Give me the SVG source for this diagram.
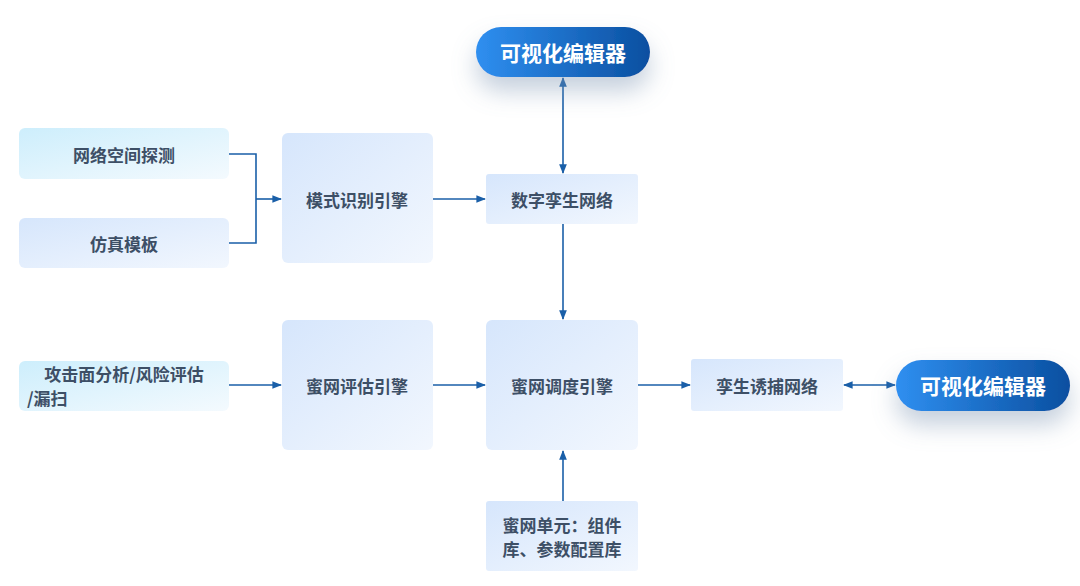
<svg xmlns="http://www.w3.org/2000/svg" width="1080" height="586" viewBox="0 0 1080 586">
<style>
.t{font-family:"Noto Sans CJK SC","Noto Sans",sans-serif;font-weight:bold;font-size:17px;fill:#3d4f66;text-anchor:middle;dominant-baseline:central}
.w{font-family:"Noto Sans CJK SC","Noto Sans",sans-serif;font-weight:bold;font-size:21px;fill:#fff;text-anchor:middle;dominant-baseline:central}
.c{stroke:#1a5fa8;stroke-width:1.6;fill:none}
</style>
<defs>
<linearGradient id="g" x1="0" y1="0" x2="1" y2="1"><stop offset="0" stop-color="#d6e6fc"/><stop offset="1" stop-color="#f2f7fe"/></linearGradient>
<linearGradient id="g2" x1="0" y1="0" x2="1" y2="1"><stop offset="0" stop-color="#cdeefc"/><stop offset="1" stop-color="#f4fafe"/></linearGradient>
<linearGradient id="p" x1="0" y1="0" x2="1" y2="0"><stop offset="0" stop-color="#2f8ff0"/><stop offset="1" stop-color="#0a4fa0"/></linearGradient>
<filter id="s" x="-40%" y="-60%" width="180%" height="260%"><feDropShadow dx="0" dy="14" stdDeviation="12" flood-color="#7f96b3" flood-opacity="0.45"/></filter>
<marker id="a" viewBox="0 0 10 10" refX="9" refY="5" markerWidth="6" markerHeight="6" orient="auto-start-reverse"><path d="M0,1 L10,5 L0,9 z" fill="#1a5fa8"/></marker>
</defs>
<rect width="1080" height="586" fill="#fff"/>
<g id="connectors">
<path class="c" d="M229,154 H256 V243 H229"/>
<path class="c" d="M256,199 H281" marker-end="url(#a)"/>
<path class="c" d="M433,199 H485" marker-end="url(#a)"/>
<path class="c" d="M563,78 V173" marker-start="url(#a)" marker-end="url(#a)"/>
<path class="c" d="M563,224 V319" marker-end="url(#a)"/>
<path class="c" d="M229,385 H281" marker-end="url(#a)"/>
<path class="c" d="M433,385 H485" marker-end="url(#a)"/>
<path class="c" d="M638,385 H690" marker-end="url(#a)"/>
<path class="c" d="M844,385 H895" marker-start="url(#a)" marker-end="url(#a)"/>
<path class="c" d="M563,501 V451" marker-end="url(#a)"/>
</g>
<g id="editor-top"><rect x="476" y="27" width="174" height="50" rx="25" fill="url(#p)" filter="url(#s)"/><text class="w" x="563" y="52">可视化编辑器</text></g>
<g id="n1"><rect x="19" y="128" width="210" height="51" rx="6" fill="url(#g2)"/><text class="t" x="124" y="154">网络空间探测</text></g>
<g id="n2"><rect x="19" y="218" width="210" height="50" rx="6" fill="url(#g)"/><text class="t" x="124" y="243">仿真模板</text></g>
<g id="n3"><rect x="282" y="133" width="151" height="130" rx="6" fill="url(#g)"/><text class="t" x="357" y="199">模式识别引擎</text></g>
<g id="n4"><rect x="486" y="174" width="152" height="50" rx="3" fill="url(#g)"/><text class="t" x="562" y="199">数字孪生网络</text></g>
<g id="n5"><rect x="19" y="361" width="210" height="50" rx="6" fill="url(#g2)"/><text class="t" x="124" y="373">攻击面分析/风险评估</text><text class="t" x="124" y="397" text-anchor="start" style="text-anchor:start" dx="-97">/漏扫</text></g>
<g id="n6"><rect x="282" y="320" width="151" height="130" rx="6" fill="url(#g)"/><text class="t" x="357" y="385">蜜网评估引擎</text></g>
<g id="n7"><rect x="486" y="320" width="152" height="130" rx="6" fill="url(#g)"/><text class="t" x="562" y="385">蜜网调度引擎</text></g>
<g id="n8"><rect x="691" y="359" width="152" height="52" rx="3" fill="url(#g)"/><text class="t" x="767" y="385">孪生诱捕网络</text></g>
<g id="editor-right"><rect x="896" y="360" width="174" height="51" rx="25.5" fill="url(#p)" filter="url(#s)"/><text class="w" x="983" y="385">可视化编辑器</text></g>
<g id="n9"><rect x="486" y="501" width="152" height="70" rx="3" fill="url(#g)"/><text class="t" x="562" y="524">蜜网单元：组件</text><text class="t" x="562" y="548">库、参数配置库</text></g>
</svg>
